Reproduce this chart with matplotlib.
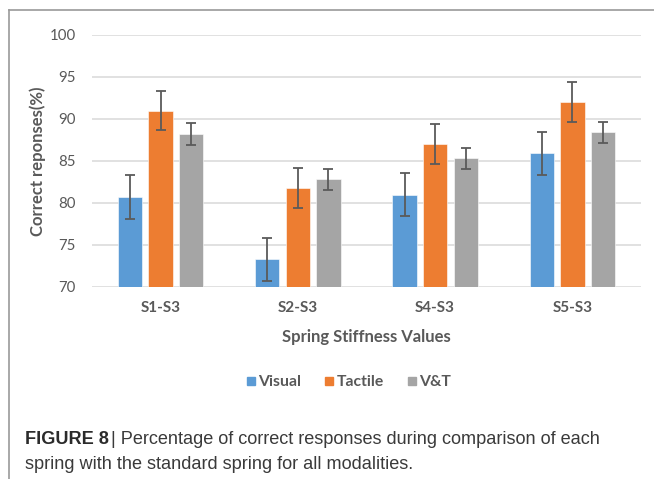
import matplotlib.pyplot as plt
import numpy as np
from matplotlib.lines import Line2D

groups = ["S1-S3", "S2-S3", "S4-S3", "S5-S3"]
modalities = ["Visual", "Tactile", "V&T"]
visual = [80.7, 73.3, 81.0, 85.9]
tactile = [91.0, 81.8, 87.0, 92.0]
vt = [88.2, 82.8, 85.3, 88.4]
visual_err = [2.6, 2.55, 2.55, 2.6]
tactile_err = [2.3, 2.35, 2.35, 2.35]
vt_err = [1.3, 1.3, 1.3, 1.3]

colors = ["#5B9BD5", "#ED7D31", "#A5A5A5"]
text_col = "#595959"

fig = plt.figure(figsize=(6.54, 4.79), dpi=100)
ax = fig.add_axes([92 / 654, 1 - 287 / 479, (641 - 92) / 654, (287 - 35) / 479])

x = np.arange(len(groups))
width = 0.178
pitch = 0.223
series = [visual, tactile, vt]
errs = [visual_err, tactile_err, vt_err]
for i in range(3):
    ax.bar(x + (i - 1) * pitch, series[i], width, bottom=0, color=colors[i],
           edgecolor="white", linewidth=0.4, label=modalities[i], zorder=2,
           yerr=errs[i], error_kw=dict(ecolor="#5a5a5a", elinewidth=1.3,
                                       capsize=3.5, capthick=1.3))

ax.set_ylim(70, 100)
ax.set_xlim(-0.5, 3.5)
ax.set_yticks(range(70, 101, 5))
ax.yaxis.grid(True, color="#D9D9D9", linewidth=1.1, zorder=0)
ax.set_axisbelow(True)
for s in ax.spines.values():
    s.set_visible(False)
ax.tick_params(axis="both", length=0)
ax.tick_params(axis="y", pad=11.5, labelsize=10.8, labelcolor=text_col)
ax.set_xticks(x)
ax.set_xticklabels(groups, fontsize=11, fontweight="bold", color=text_col,
                   fontfamily="Lato")
ax.tick_params(axis="x", pad=10)
for t in ax.get_yticklabels():
    t.set_fontfamily("Lato")

ax.set_xlabel("Spring Stiffness Values", fontsize=12, fontweight="bold",
              color=text_col, fontfamily="Lato", labelpad=10)
ax.set_ylabel("Correct reponses(%)", fontsize=12, fontweight="bold",
              color=text_col, fontfamily="Lato", labelpad=2.5)

handles = [Line2D([], [], marker="s", linestyle="", markersize=5.2,
                  markerfacecolor=c, markeredgecolor=c) for c in colors]
fig.legend(handles, modalities, loc="center", bbox_to_anchor=(349 / 654, 1 - 382 / 479),
           ncol=3, frameon=False, handletextpad=0.25, columnspacing=1.5,
           prop=dict(family="Lato", weight="bold", size=11.3),
           labelcolor=text_col, handlelength=0.5)

# frame around the figure panel
fig.add_artist(Line2D([9 / 654, 1], [1 - 10 / 479, 1 - 10 / 479], color="#9a9a9a",
                      linewidth=1.2, transform=fig.transFigure))
fig.add_artist(Line2D([9 / 654, 9 / 654], [0, 1 - 10 / 479], color="#9a9a9a",
                      linewidth=1.2, transform=fig.transFigure))

cap_y1 = 1 - 444 / 479
cap_y2 = 1 - 469 / 479
t1 = fig.text(25 / 654, cap_y1, "FIGURE 8", fontsize=13.1, fontweight="bold",
              color="#2b2b2b", fontfamily="Liberation Sans", va="baseline")
fig.canvas.draw()
bb = t1.get_window_extent()
fig.text(bb.x1 / 654 + 0.004, cap_y1,
         "| Percentage of correct responses during comparison of each",
         fontsize=13.1, color="#3a3a3a", fontfamily="Liberation Sans", va="baseline")
fig.text(25 / 654, cap_y2, "spring with the standard spring for all modalities.",
         fontsize=13.1, color="#3a3a3a", fontfamily="Liberation Sans", va="baseline")

fig.savefig("out.png", dpi=100)
